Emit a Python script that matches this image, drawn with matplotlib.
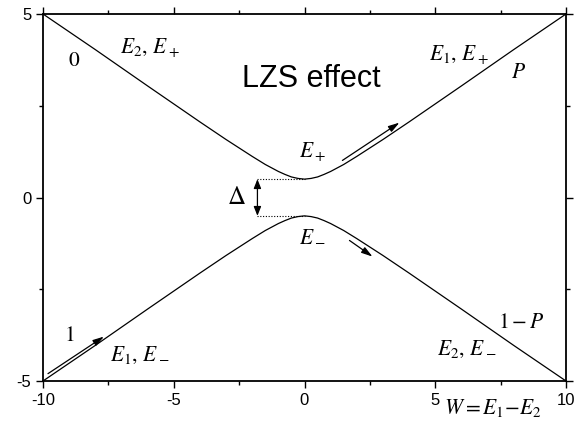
import matplotlib
matplotlib.use('Agg')
import matplotlib.pyplot as plt
from matplotlib.ticker import MultipleLocator

# energy levels
W_vals = [-10, -8, -6, -4, -3, -2, -1.5, -1, -0.75, -0.5, -0.25, 0,
          0.25, 0.5, 0.75, 1, 1.5, 2, 3, 4, 6, 8, 10]
E_plus = [5.0, 4.03, 3.04, 2.06, 1.58, 1.12, 0.90, 0.71, 0.63, 0.56, 0.52, 0.5,
          0.52, 0.56, 0.63, 0.71, 0.90, 1.12, 1.58, 2.06, 3.04, 4.03, 5.0]
E_minus = [-5.0, -4.03, -3.04, -2.06, -1.58, -1.12, -0.90, -0.71, -0.63, -0.56, -0.52, -0.5,
           -0.52, -0.56, -0.63, -0.71, -0.90, -1.12, -1.58, -2.06, -3.04, -4.03, -5.0]
gap = [0.5, -0.5]
x_ticks = [-10, -5, 0, 5, 10]
y_ticks = [-5, 0, 5]

plt.rcParams['mathtext.fontset'] = 'stix'
plt.rcParams['font.family'] = 'Liberation Sans'
plt.rcParams['axes.unicode_minus'] = False

fig = plt.figure(figsize=(5.87, 4.25), dpi=100)
ax = fig.add_axes([43/587, 44/425, 523/587, 367/425])

ax.plot(W_vals, E_plus, color='black', lw=0.9)
ax.plot(W_vals, E_minus, color='black', lw=0.9)

# gap markers
for g in gap:
    ax.plot([-1.8, 0], [g, g], color='black', lw=0.8, ls=(0, (1, 1.5)))
ax.annotate('', xy=(-1.8, gap[1]), xytext=(-1.8, gap[0]),
            arrowprops=dict(arrowstyle='<|-|>,head_length=0.5,head_width=0.2',
                            color='black', lw=0.9,
                            shrinkA=0, shrinkB=0, mutation_scale=11))
ax.text(-2.6, 0, r'$\Delta$', fontsize=18, ha='center', va='center')

# direction arrows
arrows = [((1.45, 1.01), (3.63, 2.04)),
          ((1.72, -1.17), (2.6, -1.61)),
          ((-9.81, -4.80), (-7.67, -3.79))]
for (x0, y0), (x1, y1) in arrows:
    ax.annotate('', xy=(x1, y1), xytext=(x0, y0),
                arrowprops=dict(arrowstyle='-|>,head_length=0.6,head_width=0.18',
                                color='black', lw=0.9,
                                shrinkA=0, shrinkB=0, mutation_scale=11))

fs = 15.5
ax.text(-8.8, 3.73, r'$0$', fontsize=fs, ha='center', va='center')
ax.text(-5.9, 4.1, r'$E_2,\, E_+$', fontsize=fs, ha='center', va='center')
ax.text(5.9, 3.9, r'$E_1,\, E_+$', fontsize=fs, ha='center', va='center')
ax.text(8.2, 3.4, r'$P$', fontsize=fs, ha='center', va='center')
ax.text(0.3, 1.23, r'$E_+$', fontsize=fs, ha='center', va='center')
ax.text(0.3, -1.04, r'$E_-$', fontsize=fs, ha='center', va='center')
ax.text(-9.0, -3.76, r'$1$', fontsize=fs, ha='center', va='center')
ax.text(-6.3, -4.3, r'$E_1,\, E_-$', fontsize=fs, ha='center', va='center')
ax.text(8.3, -3.4, r'$1 - P$', fontsize=fs, ha='center', va='center')
ax.text(6.2, -4.14, r'$E_2,\, E_-$', fontsize=fs, ha='center', va='center')
ax.text(0.27, 3.24, 'LZS effect', fontsize=22, ha='center', va='center')
fig.text(493/587, 1 - 408/425, r'$W = E_1{-}E_2$', fontsize=fs, ha='center', va='center')

ax.set_xlim(-10, 10)
ax.set_ylim(-5, 5)
ax.set_xticks(x_ticks)
ax.set_yticks(y_ticks)
ax.xaxis.set_minor_locator(MultipleLocator(2.5))
ax.yaxis.set_minor_locator(MultipleLocator(2.5))
ax.tick_params(which='both', direction='out', top=True, right=True,
               labeltop=False, labelright=False, labelsize=12, width=1)
ax.tick_params(which='major', length=5)
ax.tick_params(which='minor', length=3)
for s in ax.spines.values():
    s.set_linewidth(1.3)

fig.savefig('out.png', dpi=100)
